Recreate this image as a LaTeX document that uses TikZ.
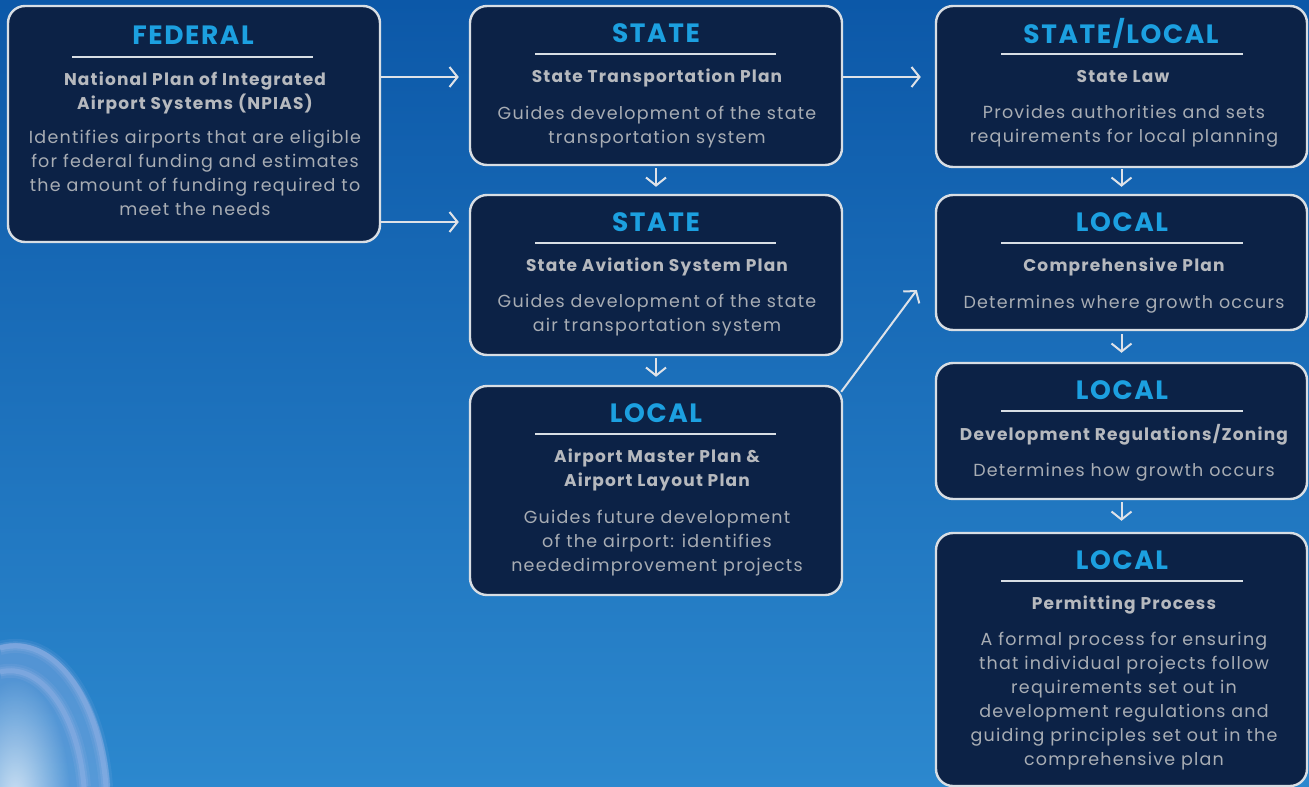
\documentclass[tikz,border=0pt]{standalone}
\usepackage{fontspec}
\setmainfont{Poppins}
\usetikzlibrary{arrows.meta,calc,fadings}
\tikzfading[name=glowfade, inner color=transparent!0, outer color=transparent!100]
\definecolor{bgtop}{RGB}{12,88,168}
\definecolor{bgbot}{RGB}{44,136,206}
\definecolor{boxfill}{RGB}{12,34,70}
\definecolor{boxline}{RGB}{216,222,228}
\definecolor{titlec}{RGB}{28,160,224}
\definecolor{subc}{RGB}{182,185,190}
\definecolor{bodc}{RGB}{168,173,180}
\definecolor{arrc}{RGB}{222,226,232}
\definecolor{glowc}{RGB}{185,195,240}
\begin{document}
\begin{tikzpicture}[x=1pt,y=-1pt,
 box/.style={draw=boxline, fill=boxfill, line width=2.4pt, rounded corners=17pt, inner sep=0pt, minimum width=372pt},
 ttl/.style={text=titlec, inner sep=0pt, font=\fontsize{26.5}{28}\selectfont\bfseries\addfontfeatures{LetterSpace=6}},
 sub/.style={text=subc, inner sep=0pt, align=center, font=\fontsize{17}{24}\selectfont\bfseries\addfontfeatures{LetterSpace=7}},
 bod/.style={text=bodc, inner sep=0pt, align=center, font=\fontsize{17.5}{24}\selectfont\addfontfeatures{LetterSpace=7}},
 rule/.style={draw=boxline, line width=1.4pt},
 arr/.style={draw=arrc, line width=2pt, -{Straight Barb[length=8pt,width=20pt]}}
]
\useasboundingbox (0,0) rectangle (1309,787);
\shade[top color=bgtop, bottom color=bgbot] (0,0) rectangle (1309,787);
% glow bottom-left
\fill[glowc, opacity=0.3] (0,645) .. controls (55,630) and (105,700) .. (110,787) -- (0,787) -- cycle;
\fill[white, opacity=0.7, path fading=glowfade] (15,800) ellipse (55 and 120);
\foreach \w/\o in {14/0.1,9/0.15,5/0.22}{
  \draw[glowc, opacity=\o, line width=\w pt] (0,648) .. controls (55,633) and (100,700) .. (106,787);
  \draw[glowc, opacity=\o, line width=\w pt] (0,672) .. controls (40,662) and (78,712) .. (84,787);
}

% boxes
\node[box, minimum height=236pt] (fed) at (194,124) {};
\node[box, minimum height=159pt] (st1) at (656,85.5) {};
\node[box, minimum height=160pt] (st2) at (656,275) {};
\node[box, minimum height=209pt] (lap) at (656,490.5) {};
\node[box, minimum width=371pt, minimum height=161pt] (sl) at (1121.5,86.5) {};
\node[box, minimum width=371pt, minimum height=135pt] (comp) at (1121.5,262.5) {};
\node[box, minimum width=371pt, minimum height=136pt] (dev) at (1121.5,431) {};
\node[box, minimum width=371pt, minimum height=253pt] (perm) at (1121.5,659.5) {};

% rules
\draw[rule] (72,57) -- (313,57);
\draw[rule] (535,54) -- (776,54);
\draw[rule] (535,243) -- (776,243);
\draw[rule] (535,434) -- (776,434);
\draw[rule] (1001,54) -- (1243,54);
\draw[rule] (1001,243) -- (1243,243);
\draw[rule] (1001,411) -- (1243,411);
\draw[rule] (1001,581) -- (1243,581);

% titles
\node[ttl] (fedT) at (193,35.5) {FEDERAL};
\node[ttl] (st1T) at (656,33.5) {STATE};
\node[ttl] (st2T) at (656,222.5) {STATE};
\node[ttl] (lapT) at (656,413.5) {LOCAL};
\node[ttl] (slT) at (1121,33.5) {STATE/LOCAL};
\node[ttl] (compT) at (1122,222.5) {LOCAL};
\node[ttl] (devT) at (1122,390.5) {LOCAL};
\node[ttl] (permT) at (1122,560.5) {LOCAL};

% subtitles
\node[sub] (fedS) at (195,93) {National Plan of Integrated\\Airport Systems (NPIAS)};
\node[sub] (st1S) at (657,78) {State Transportation Plan};
\node[sub] (st2S) at (657,267) {State Aviation System Plan};
\node[sub] (lapS) at (657,470) {Airport Master Plan \&\\Airport Layout Plan};
\node[sub] (slS) at (1123,76.5) {State Law};
\node[sub] (compS) at (1124,267) {Comprehensive Plan};
\node[sub] (devS) at (1124,434.5) {Development Regulations/Zoning};
\node[sub] (permS) at (1124,605) {Permitting Process};

% bodies
\node[bod] (fedB) at (195,173) {Identifies airports that are eligible\\for federal funding and estimates\\the amount of funding required to\\meet the needs};
\node[bod] (st1B) at (657,127) {Guides development of the state\\transportation system};
\node[bod] (st2B) at (657,315) {Guides development of the state\\air transportation system};
\node[bod] (lapB) at (657,543) {Guides future development\\of the airport: identifies\\neededimprovement projects};
\node[bod] (slB) at (1124,126) {Provides authorities and sets\\requirements for local planning};
\node[bod] (compB) at (1124,304) {Determines where growth occurs};
\node[bod] (devB) at (1124,472) {Determines how growth occurs};
\node[bod] (permB) at (1124,701) {A formal process for ensuring\\that individual projects follow\\requirements set out in\\development regulations and\\guiding principles set out in the\\comprehensive plan};

% connectors
\draw[arr, shorten >=10pt] (fed.east |- 0,77) -- (st1.west |- 0,77);
\draw[arr, shorten >=10pt] (fed.east |- 0,222) -- (st2.west |- 0,222);
\draw[arr, shorten >=14pt] (st1.east |- 0,77) -- (sl.west |- 0,77);
\draw[arr, shorten <=2pt, shorten >=7pt] (st1.south) -- (st2.north);
\draw[arr, shorten <=2pt, shorten >=8pt] (st2.south) -- (lap.north);
\draw[arr, shorten <=1pt, shorten >=7pt] (sl.south) -- (comp.north);
\draw[arr, shorten <=3pt, shorten >=9pt] (comp.south) -- (dev.north);
\draw[arr, shorten <=2pt, shorten >=11pt] (dev.south) -- (perm.north);
\coordinate (diagS) at ($(lap.north east)+(-2,7)$);
\coordinate (diagE) at ($(comp.west)+(-18,27.5)$);
\draw[arr] (diagS) -- (diagE);
\end{tikzpicture}
\end{document}
